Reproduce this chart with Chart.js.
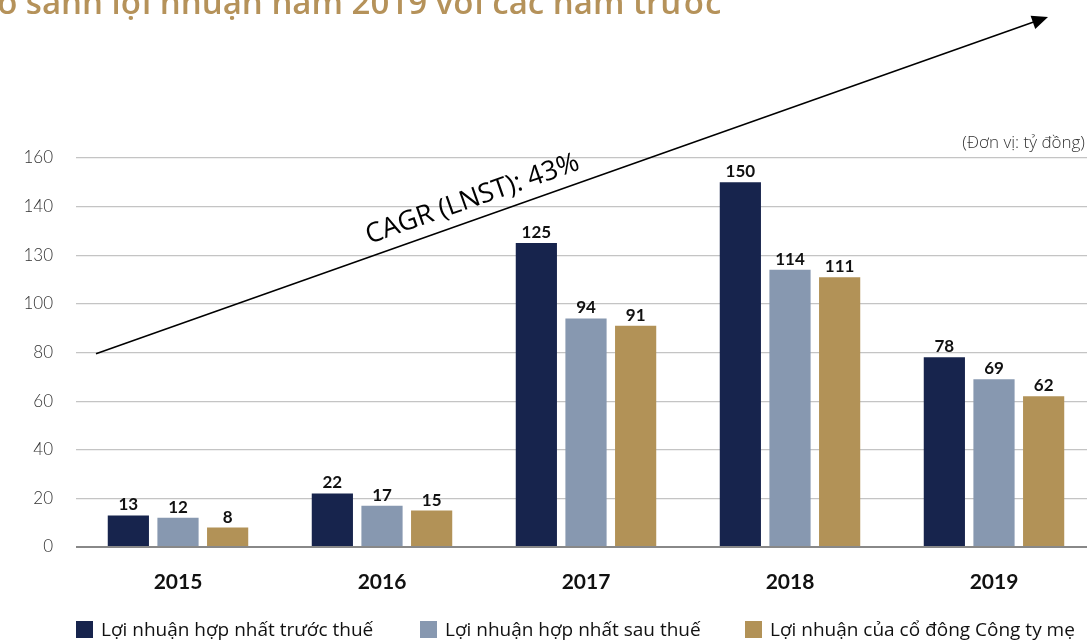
<!DOCTYPE html>
<html>
<head>
<meta charset="utf-8">
<script src="https://cdn.jsdelivr.net/npm/chart.js@4"></script>
<style>
  html, body { margin: 0; padding: 0; background: #fff; overflow: hidden; }
  .wrap { position: relative; width: 1087px; height: 642px; overflow: hidden; }
  canvas { position: absolute; left: 0; top: 0; }
  .tieu-de {
    position: absolute; left: -21px; top: -21px; white-space: nowrap;
    font-family: "Open Sans", sans-serif; font-size: 33px; font-weight: 600; color: #b5925a;
  }
  .don-vi {
    position: absolute; right: 2px; top: 130px;
    font-family: "Open Sans", sans-serif; font-size: 17px; font-weight: 300; color: #333;
  }
  .leyenda { position: absolute; top: 616px; left: 0; width: 1087px; height: 26px; }
  .leyenda-item {
    position: absolute; top: 0; display: flex; align-items: center;
    font-family: "Open Sans", sans-serif; font-size: 19px; color: #111; white-space: nowrap;
  }
  .leyenda-dot { width: 17px; height: 17px; margin-right: 8px; }
</style>
</head>
<body>
<div class="wrap">
  <canvas id="chartLoiNhuan" width="1096" height="642"></canvas>
  <div class="tieu-de">So sánh lợi nhuận năm 2019 với các năm trước</div>
  <div class="don-vi">(Đơn vị: tỷ đồng)</div>
  <div class="leyenda">
    <div class="leyenda-item" style="left:76px;"><div class="leyenda-dot" style="background:#17244d;"></div>Lợi nhuận hợp nhất trước thuế</div>
    <div class="leyenda-item" style="left:420px;"><div class="leyenda-dot" style="background:#8798b0;"></div>Lợi nhuận hợp nhất sau thuế</div>
    <div class="leyenda-item" style="left:745px;"><div class="leyenda-dot" style="background:#b29257;"></div>Lợi nhuận của cổ đông Công ty mẹ</div>
  </div>
</div>
<script>
// Data
var years = ['2015', '2016', '2017', '2018', '2019'];
var truocThue = [13, 22, 125, 150, 78];
var sauThue = [12, 17, 94, 114, 69];
var coDongMe = [8, 15, 91, 111, 62];
var yTickLabels = ['0', '20', '40', '60', '80', '100', '130', '140', '160'];

// value labels above bars
var valueLabels = {
  id: 'valueLabels',
  afterDatasetsDraw: function (chart) {
    var ctx = chart.ctx;
    ctx.save();
    ctx.font = 'bold 17px "Lato", sans-serif';
    ctx.fillStyle = '#111';
    ctx.textAlign = 'center';
    ctx.textBaseline = 'bottom';
    chart.data.datasets.forEach(function (ds, i) {
      chart.getDatasetMeta(i).data.forEach(function (bar, j) {
        ctx.fillText(ds.data[j], bar.x, bar.y - 2);
      });
    });
    ctx.restore();
  }
};

// CAGR arrow
var cagrArrow = {
  id: 'cagrArrow',
  afterDraw: function (chart) {
    var ctx = chart.ctx;
    var y = chart.scales.y;
    var x0 = chart.chartArea.left + 20, y0 = y.getPixelForValue(79.5);
    var x1 = 1048, y1 = y.getPixelForValue(218);
    var ang = Math.atan2(y1 - y0, x1 - x0);
    ctx.save();
    ctx.strokeStyle = '#000';
    ctx.lineWidth = 1.5;
    ctx.beginPath();
    ctx.moveTo(x0, y0);
    ctx.lineTo(x1 - 10 * Math.cos(ang), y1 - 10 * Math.sin(ang));
    ctx.stroke();
    ctx.translate(x1, y1);
    ctx.rotate(ang);
    ctx.fillStyle = '#000';
    ctx.beginPath();
    ctx.moveTo(0, 0);
    ctx.lineTo(-16, -7);
    ctx.lineTo(-16, 7);
    ctx.closePath();
    ctx.fill();
    ctx.restore();

    // label
    ctx.save();
    ctx.translate(477, 212);
    ctx.rotate(ang);
    ctx.font = '27px "Open Sans", sans-serif';
    ctx.fillStyle = '#000';
    ctx.textAlign = 'center';
    ctx.textBaseline = 'bottom';
    ctx.fillText('CAGR (LNST): 43%', 0, 0);
    ctx.restore();
  }
};

new Chart(document.getElementById('chartLoiNhuan'), {
  type: 'bar',
  data: {
    labels: years,
    datasets: [
      { label: 'Lợi nhuận hợp nhất trước thuế', data: truocThue, backgroundColor: '#17244d' },
      { label: 'Lợi nhuận hợp nhất sau thuế', data: sauThue, backgroundColor: '#8798b0' },
      { label: 'Lợi nhuận của cổ đông Công ty mẹ', data: coDongMe, backgroundColor: '#b29257' }
    ]
  },
  options: {
    responsive: false,
    animation: false,
    categoryPercentage: 0.73,
    barPercentage: 0.83,
    layout: { padding: { top: 158, right: 0, bottom: 0, left: 0 } },
    plugins: { legend: { display: false }, tooltip: { enabled: false } },
    scales: {
      x: {
        afterFit: function (s) { s.height = 95; },
        grid: { display: false },
        border: { display: false },
        ticks: { color: '#111', padding: 15, font: { family: 'Lato', size: 21, weight: 'bold' } }
      },
      y: {
        min: 0, max: 160,
        afterFit: function (s) { s.width = 76; },
        border: { display: false },
        grid: {
          drawTicks: false,
          color: function (c) { return c.tick && c.tick.value === 0 ? '#888' : '#c4c4c4'; },
          lineWidth: function (c) { return c.tick && c.tick.value === 0 ? 2 : 1.2; }
        },
        ticks: {
          stepSize: 20, padding: 23, color: '#333',
          font: { family: 'Lato', size: 17, weight: 300 },
          callback: function (v, i) { return yTickLabels[i]; }
        }
      }
    }
  },
  plugins: [valueLabels, cagrArrow]
});
</script>
</body>
</html>
